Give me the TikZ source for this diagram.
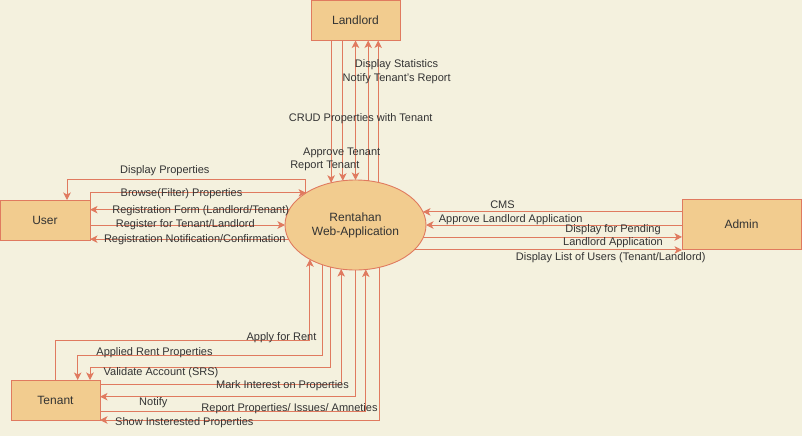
\documentclass[tikz,border=0pt]{standalone}
\usepackage{fontspec}
\setmainfont{Liberation Sans}
\usetikzlibrary{arrows.meta,shapes.geometric,calc}
\definecolor{bg}{HTML}{F4F1DE}
\definecolor{ln}{HTML}{E07A5F}
\definecolor{fl}{HTML}{F2CC8F}
\definecolor{tx}{HTML}{333333}
\begin{document}
\begin{tikzpicture}[x=1pt,y=-1pt,
 entity/.style={rectangle,draw=ln,fill=fl,line width=0.9pt,inner sep=0pt,outer sep=0pt,text=tx,font=\fontsize{12}{14}\selectfont},
 proc/.style={ellipse,draw=ln,fill=fl,line width=0.9pt,inner sep=0pt,outer sep=0pt,minimum width=141pt,minimum height=90pt,text=tx,align=center,font=\fontsize{12}{14}\selectfont},
 flow/.style={draw=ln,line width=0.9pt,-{Stealth[length=7.5pt,width=7.5pt,inset=2pt]}},
 flowtwo/.style={draw=ln,line width=0.9pt,{Stealth[length=7.5pt,width=7.5pt,inset=2pt]}-{Stealth[length=7.5pt,width=7.5pt,inset=2pt]}},
 lbl/.style={text=tx,font=\fontsize{11}{13}\selectfont,inner sep=0pt,align=center}]
\fill[bg] (0,0) rectangle (802,436);
\useasboundingbox (0,0) rectangle (802,436);

% nodes
\node[entity,minimum width=89pt,minimum height=40pt] (land) at (355.5,20.5) {Landlord};
\node[entity,minimum width=90pt,minimum height=40pt] (user) at (45,220) {User};
\node[entity,minimum width=119pt,minimum height=50pt] (admin) at (741.5,224.5) {Admin};
\node[entity,minimum width=89pt,minimum height=40pt] (tenant) at (55.5,400) {Tenant};
\node[proc] (ell) at (355.5,225) {Rentahan\\Web-Application};

% user flows
\draw[flow] (ell.148.1) -- ++(0,-13.6) -| ([xshift=22pt]user.north);
\draw[flow] (user.north east) |- (ell.147.2);
\draw[flow] (ell.167.9) -- (ell.167.9 -| user.east);
\draw[flow] (ell.180 -| user.east) -- (ell.180);
\draw[flow] (ell.192.7) -- (ell.192.7 -| user.east);

% landlord flows
\draw[flow] (ell.120.1 |- land.south) -- (ell.120.1);
\draw[flow] (ell.106.4 |- land.south) -- (ell.106.4);
\draw[flowtwo] (ell.90 |- land.south) -- (ell.90);
\draw[flow] (ell.74.9) -- (ell.74.9 |- land.south);
\draw[flow] (ell.62.2) -- (ell.62.2 |- land.south);

% admin flows
\draw[flow] (ell.11.2 -| admin.west) -- (ell.11.2);
\draw[flow] (ell.0 -| admin.west) -- (ell.0);
\draw[flow] (ell.350.2) -- (ell.350.2 -| admin.west);
\draw[flow] (ell.337.7) -- (ell.337.7 -| admin.west);

% tenant flows
\draw[flow] (tenant.north) -- ([yshift=40pt]tenant.north) -| (ell.217.8);
\draw[flow] (ell.230.1) |- ([xshift=22.2pt,yshift=24.3pt]tenant.north) -- ([xshift=22.2pt]tenant.north);
\draw[flow] (ell.239.5) |- ([xshift=34.5pt,yshift=12.3pt]tenant.north) -- ([xshift=34.5pt]tenant.north);
\draw[flow] ([yshift=16pt]tenant.east) -| (ell.252.6);
\draw[flow] (ell.270) |- ([yshift=3.3pt]tenant.east);
\draw[flow] ([yshift=-11pt]tenant.east) -| (ell.283.3);
\draw[flow] (ell.300.1) |- (tenant.south east);

% labels
\node[lbl] (t1) at (396.5,65) {Display Statistics};
\node[lbl] (t2) at (396.7,78.7) {Notify Tenant's Report};
\node[lbl] (t3) at (360.7,119) {CRUD Properties with Tenant};
\node[lbl] (t4) at (341.7,153.3) {Approve Tenant};
\node[lbl] (t5) at (324.8,165.7) {Report Tenant};

\node[lbl] (u1) at (164.8,170.3) {Display Properties};
\node[lbl] (u2) at (181.5,193.3) {Browse(Filter) Properties};
\node[lbl] (u3) at (200.7,210.7) {Registration Form (Landlord/Tenant)};
\node[lbl] (u4) at (185.3,224.3) {Register for Tenant/Landlord};
\node[lbl] (u5) at (194.8,240) {Registration Notification/Confirmation};

\node[lbl] (a1) at (502.5,205) {CMS};
\node[lbl] (a2) at (510.7,219.3) {Approve Landlord Application};
\node[lbl] (a3) at (613,235.8) {Display for Pending\\Landlord Application};
\node[lbl] (a4) at (610.7,257.3) {Display List of Users (Tenant/Landlord)};

\node[lbl] (b1) at (281.5,337.3) {Apply for Rent};
\node[lbl] (b2) at (154.5,353) {Applied Rent Properties};
\node[lbl] (b3) at (161,372.3) {Validate Account (SRS)};
\node[lbl] (b4) at (282.5,386) {Mark Interest on Properties};
\node[lbl] (b5) at (153.3,402.3) {Notify};
\node[lbl] (b6) at (289.5,409) {Report Properties/ Issues/ Amneties};
\node[lbl] (b7) at (184.3,423) {Show Insterested Properties};
\end{tikzpicture}
\end{document}
